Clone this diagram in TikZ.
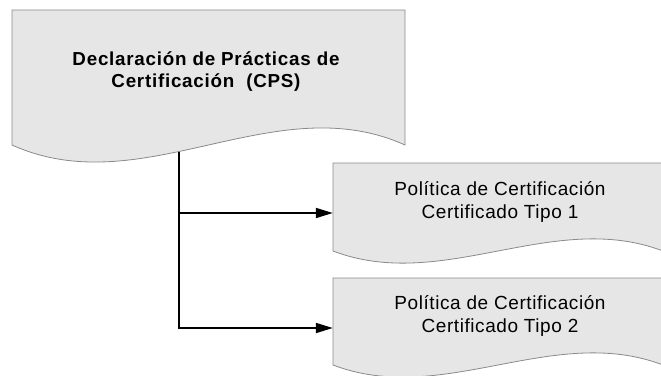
\documentclass[tikz,border=0pt]{standalone}
\usepackage{fontspec}
\setmainfont{Liberation Sans}
\newfontfamily\docfont[LetterSpace=3]{Liberation Sans}
\newfontfamily\cpsfont[LetterSpace=4]{Liberation Sans}
\usetikzlibrary{arrows.meta}
\definecolor{docfill}{HTML}{E6E6E6}
\definecolor{docline}{HTML}{8A8A8A}
\tikzset{
  docshape/.style={fill=docfill,draw=docline,line width=0.8pt},
  cpstext/.style={align=center,inner sep=0pt,font=\cpsfont\bfseries\fontsize{18.8}{22}\selectfont},
  doctext/.style={align=center,inner sep=0pt,font=\docfont\fontsize{19}{22.5}\selectfont},
  anchorbox/.style={inner sep=0pt,minimum width=328pt,minimum height=100pt},
  conn/.style={draw=black,line width=1.8pt,-{Triangle[length=17pt,width=10pt]}}
}
\begin{document}
\begin{tikzpicture}[x=1pt,y=-1pt]
\useasboundingbox (0,0) rectangle (661,375);
\clip (0,0) rectangle (661,375);
\path[docshape] (12,10) -- (405,10) -- (405,145) .. controls (274,86) and (143,204) .. (12,145) -- cycle;
\path[docshape] (333,163) -- (663,163) -- (663,251) .. controls (553,209) and (443,293) .. (333,251) -- cycle;
\path[docshape] (333,278) -- (663,278) -- (663,365) .. controls (553,323) and (443,407) .. (333,365) -- cycle;
\node[cpstext] (cps) at (206,72) {Declaración de Prácticas de\\Certificación\ \ (CPS)};
\node[doctext] (p1) at (500,202) {Política de Certificación\\Certificado Tipo 1};
\node[doctext] (p2) at (500,316) {Política de Certificación\\Certificado Tipo 2};
\node[anchorbox] (p1box) at (497,213) {};
\node[anchorbox] (p2box) at (497,328) {};
\coordinate (cpsout) at (179,151.5);
\draw[conn] (cpsout) |- (p1box.west);
\draw[conn] (cpsout) |- (p2box.west);
\end{tikzpicture}
\end{document}
